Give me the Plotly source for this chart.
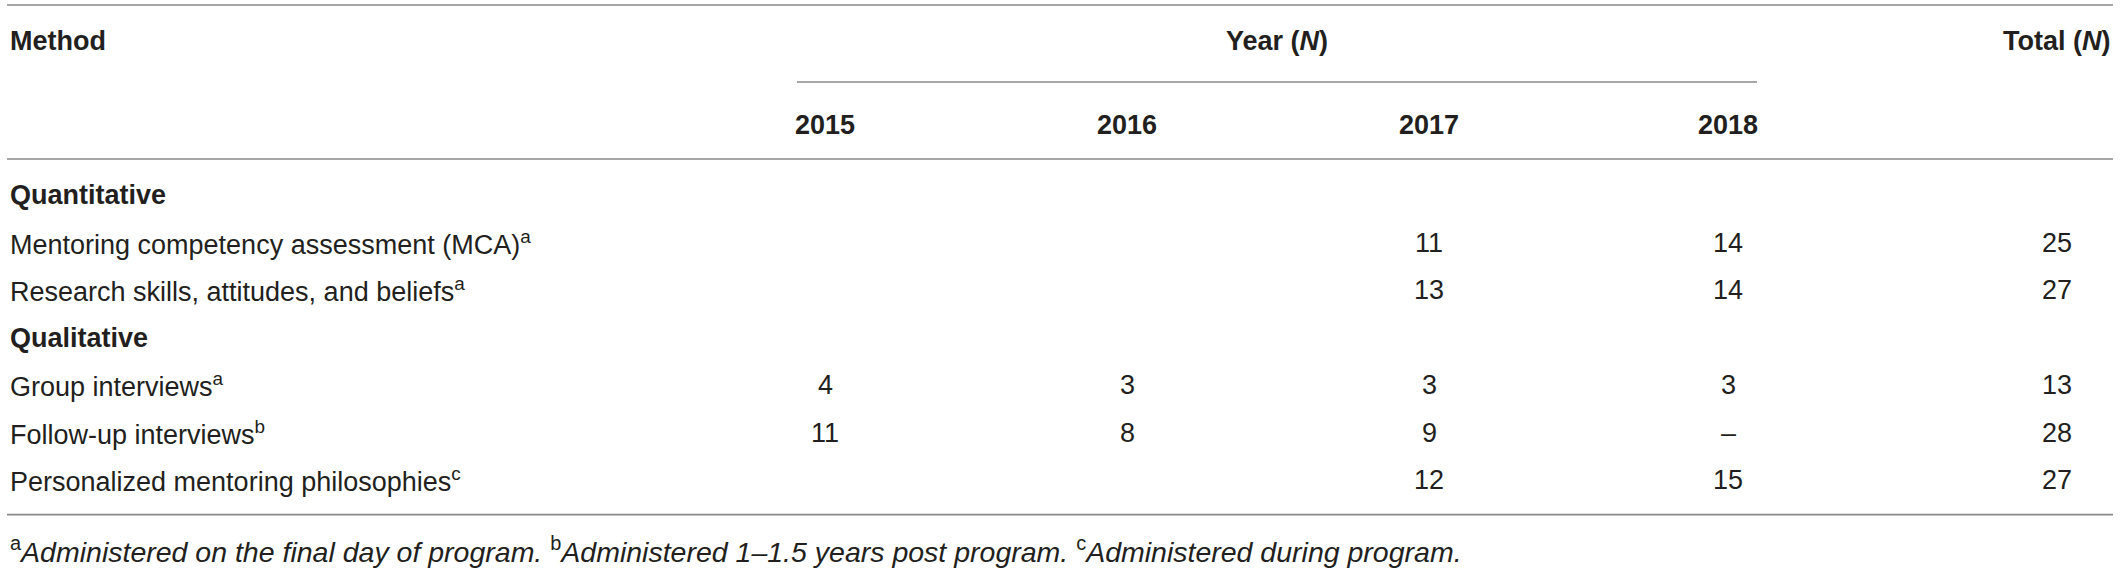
import plotly.graph_objects as go

# table content
year_labels = ["2015", "2016", "2017", "2018"]
groups = ["Quantitative", "Qualitative"]
methods = [
    "Mentoring competency assessment (MCA)",
    "Research skills, attitudes, and beliefs",
    "Group interviews",
    "Follow-up interviews",
    "Personalized mentoring philosophies",
]
method_group = [0, 0, 1, 1, 1]
method_note = ["a", "a", "a", "b", "c"]
n_2015 = [None, None, 4, 11, None]
n_2016 = [None, None, 3, 8, None]
n_2017 = [11, 13, 3, 9, 12]
n_2018 = [14, 14, 3, "–", 15]
n_total = [25, 27, 13, 28, 27]
notes = [
    ("a", "Administered on the final day of program."),
    ("b", "Administered 1–1.5 years post program."),
    ("c", "Administered during program."),
]

# layout (pixels)
W, H = 2120, 568
x_left = 8
x_years = [825, 1127, 1429, 1728]
x_total = 2057
x_right = 2112
y_head = 41
y_years = 125
y_body0 = 195
row_h = 47.5
font = "Liberation Sans"
fs = 27
ink = "#231f20"
rule = "#8a8a8a"

fig = go.Figure()
ann = []


def text(x, y, s, anchor="center", bold=False, size=fs):
    ann.append(dict(x=x, y=y, xref="x", yref="y", text=s, showarrow=False,
                    xanchor=anchor, yanchor="middle",
                    font=dict(family=font, size=size, color=ink,
                              weight="bold" if bold else "normal")))


# header
text(x_left, y_head, "Method", "left", True)
text((x_years[0] + x_years[-1]) / 2, y_head, "Year (<i>N</i>)", "center", True)
text(x_right, y_head, "Total (<i>N</i>)", "right", True)
for x, lab in zip(x_years, year_labels):
    text(x, y_years, lab, "center", True)

# body
row = 0
last_group = None
for i, m in enumerate(methods):
    if method_group[i] != last_group:
        last_group = method_group[i]
        text(x_left, y_body0 + row * row_h, groups[last_group], "left", True)
        row += 1
    y = y_body0 + row * row_h
    text(x_left, y, f"{m}<sup>{method_note[i]}</sup>", "left")
    for x, col in zip(x_years, [n_2015, n_2016, n_2017, n_2018]):
        if col[i] is not None:
            text(x, y, str(col[i]))
    text(x_total, y, str(n_total[i]))
    row += 1

y_bottom = y_body0 + (row - 0.27) * row_h
foot = " ".join(f"<sup>{k}</sup><i>{t}</i>" for k, t in notes)
text(x_left, y_bottom + 35, foot, "left", size=28.5)

# rules
y_head_rule = (y_years + y_body0) / 2 - 1
lines = [
    (7, 2113, 5),
    (797, 1757, 82),
    (7, 2113, y_head_rule),
    (7, 2113, y_bottom),
]
shapes = [dict(type="line", xref="x", yref="y", x0=a, x1=b, y0=y, y1=y,
               line=dict(color=rule, width=1.6)) for a, b, y in lines]

fig.update_layout(
    width=W, height=H, margin=dict(l=0, r=0, t=0, b=0),
    paper_bgcolor="white", plot_bgcolor="white",
    xaxis=dict(range=[0, W], visible=False, fixedrange=True),
    yaxis=dict(range=[H, 0], visible=False, fixedrange=True),
    annotations=ann, shapes=shapes, showlegend=False,
)
fig.write_html("out.html", config={"displayModeBar": False},
               post_script="document.body.style.margin='0';"
                           "document.body.style.overflow='hidden';")
